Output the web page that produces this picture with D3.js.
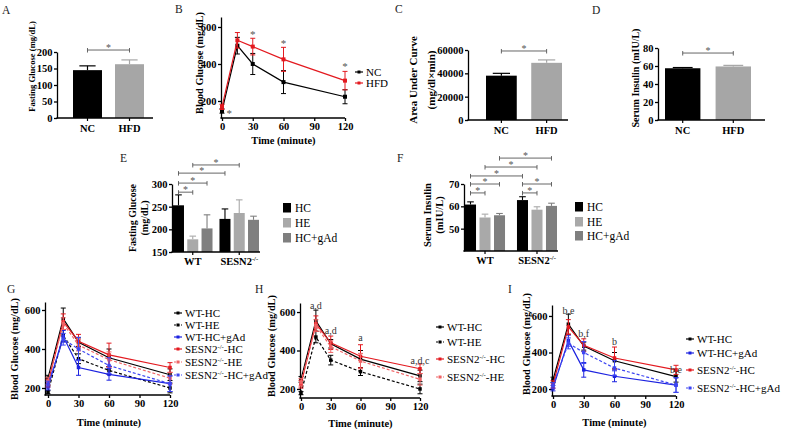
<!DOCTYPE html>
<html><head><meta charset="utf-8">
<script src="https://cdn.jsdelivr.net/npm/d3@7"></script>
<style>
body{margin:0;background:#fff;}
svg{display:block;background:#fff;}
</style></head><body>
<svg id="c" width="789" height="433"></svg>
<script>
// ---------- DATA ----------
// Panels A, C, D
const groupsNH = ["NC", "HFD"];
const fastingA = [145, 163];
const fastingAErr = [13, 13];
const aucC = [38000, 49000];
const aucCErr = [2000, 2500];
const insulinD = [57.5, 59.5];
const insulinDErr = [0.8, 1.2];
const ticksA = [0, 50, 100, 150, 200];
const ticksC = [0, 20000, 40000, 60000];
const ticksD = [0, 20, 40, 60, 80];

// Panel B
const timePoints = [0, 15, 30, 60, 120];
const timeTicks = [0, 30, 60, 90, 120];
const glucoseTicks = [200, 400, 600];
const ipgttNC = [146, 499, 400, 302, 223];
const ipgttNCErr = [12, 45, 57, 62, 38];
const ipgttHFD = [168, 528, 494, 425, 310];
const ipgttHFDErr = [14, 42, 45, 65, 50];
const starsB = [[7, 128], [30, 557], [60, 508], [120, 384]];

// Panels E, F
const genotypes = ["WT", "SESN2^-/-^"];
const treatments = ["HC", "HE", "HC+gAd"];
const fastingE = [[253, 178, 202], [223, 236, 221]];
const fastingEErr = [[23, 7, 30], [22, 29, 8]];
const insulinF = [[60.8, 55.0, 56.0], [62.8, 58.5, 60.2]];
const insulinFErr = [[1.2, 1.5, 0.8], [1.5, 1.3, 1.2]];
const ticksE = [150, 200, 250, 300];
const ticksF = [50, 60, 70];
// [group1, treatment1, group2, treatment2, level]
const bracketsE = [[0, 0, 0, 1, 282], [0, 0, 0, 2, 302], [0, 0, 1, 0, 324], [0, 1, 1, 1, 342]];
const bracketsF = [[0, 0, 0, 1, 66], [0, 0, 0, 2, 70], [0, 0, 1, 0, 73.6], [0, 1, 1, 1, 77.6],
                   [0, 2, 1, 2, 81.6], [1, 0, 1, 2, 70], [1, 0, 1, 1, 66]];

// Panels G, H, I
const seriesNames = ["WT-HC", "WT-HE", "WT-HC+gAd", "SESN2^-/-^-HC", "SESN2^-/-^-HE", "SESN2^-/-^-HC+gAd"];
const glucoseWTHC = [250, 555, 435, 355, 268];
const errWTHC = [15, 55, 22, 45, 30];
const glucoseWTHE = [178, 470, 350, 290, 200];
const errWTHE = [8, 30, 25, 20, 25];
const glucoseWTgAd = [205, 465, 305, 270, 222];
const errWTgAd = [15, 30, 40, 30, 40];
const glucoseSHC = [225, 540, 440, 370, 305];
const errSHC = [20, 40, 35, 60, 25];
const glucoseSHE = [235, 530, 420, 345, 250];
const errSHE = [20, 30, 30, 40, 30];
const glucoseSgAd = [220, 450, 400, 315, 222];
const errSgAd = [15, 30, 60, 40, 40];
const annotH = [[15, 616, "a,d"], [30, 486, "a,d"], [60, 449, "a"], [120, 330, "a,d,c"]];
const annotI = [[15, 611, "b,e"], [30, 485, "b,f"], [60, 441, "b"], [120, 288, "b,e"]];

// ---------- HELPERS ----------
const svg = d3.select("#c");
const SERIF = "'Liberation Serif','Times New Roman',Times,serif";
const RED = "#e3191f", RED2 = "#f06466", BLUE = "#1c22e0", BLUE2 = "#3e46f2";

function richText(t, str, size) {
  const parts = str.split("^");
  parts.forEach((p, i) => {
    if (!p) return;
    const sp = t.append("tspan").text(p);
    if (i % 2 === 1) sp.attr("font-size", size * 0.62).attr("dy", -size * 0.38);
    else if (i > 0) sp.attr("dy", size * 0.38);
  });
}
function label(x, y, str, o = {}) {
  const size = o.size || 11;
  const t = svg.append("text").attr("font-family", SERIF).attr("font-size", size)
    .attr("font-weight", o.weight || "normal").attr("text-anchor", o.anchor || "start")
    .attr("fill", o.fill || "#000");
  if (o.rotate) t.attr("transform", `translate(${x},${y}) rotate(${o.rotate})`);
  else t.attr("x", x).attr("y", y);
  richText(t, str, size);
  return t;
}
function yAxisDraw(scale, x, ticks, size) {
  const ax = d3.axisLeft(scale).tickValues(ticks).tickSize(3).tickSizeOuter(0)
    .tickPadding(1.5).tickFormat(d3.format("d"));
  const g = svg.append("g").attr("transform", `translate(${x},0)`).call(ax);
  g.select(".domain").attr("stroke", "#000").attr("stroke-width", 1.3);
  g.selectAll(".tick line").attr("stroke", "#000").attr("stroke-width", 1.3);
  g.selectAll(".tick text").attr("font-family", SERIF).attr("font-weight", "bold")
    .attr("font-size", size).attr("fill", "#000");
}
function hline(x1, x2, y, c = "#000", w = 1.3) {
  svg.append("line").attr("x1", x1).attr("x2", x2).attr("y1", y).attr("y2", y)
    .attr("stroke", c).attr("stroke-width", w);
}
function bracket(x1, x2, y, star = "*") {
  const g = svg.append("g").attr("stroke", "#555").attr("stroke-width", 0.9);
  g.append("line").attr("x1", x1).attr("x2", x2).attr("y1", y).attr("y2", y);
  g.append("line").attr("x1", x1).attr("x2", x1).attr("y1", y - 2).attr("y2", y + 2.5);
  g.append("line").attr("x1", x2).attr("x2", x2).attr("y1", y - 2).attr("y2", y + 2.5);
  label((x1 + x2) / 2, y + 1, star, { size: 10, anchor: "middle", fill: "#555" });
}
function errBar(cx, y1, y2, half, color = "#000", w = 1) {
  const g = svg.append("g").attr("stroke", color).attr("stroke-width", w);
  g.append("line").attr("x1", cx).attr("x2", cx).attr("y1", y1).attr("y2", y2);
  g.append("line").attr("x1", cx - half).attr("x2", cx + half).attr("y1", y2).attr("y2", y2);
}

// ---------- SIMPLE BAR PANELS (A, C, D) ----------
function barPanel(o) {
  const y = d3.scaleLinear().domain(o.domain).range(o.yRange);
  const x = d3.scaleBand().domain(groupsNH).range(o.barRange).paddingInner(o.pad);
  const base = y(o.domain[0]);
  const colors = ["#000", "#a6a6a6"];
  groupsNH.forEach((c, i) => {
    const cx = x(c) + x.bandwidth() / 2;
    errBar(cx, y(o.vals[i]), y(o.vals[i] + o.errs[i]), x.bandwidth() * 0.28, colors[i], 1.2);
  });
  svg.append("g").selectAll("rect").data(groupsNH).join("rect")
    .attr("x", d => x(d)).attr("width", x.bandwidth())
    .attr("y", (d, i) => y(o.vals[i])).attr("height", (d, i) => base - y(o.vals[i]))
    .attr("fill", (d, i) => colors[i]);
  yAxisDraw(y, o.axisX, o.ticks, o.tickSize);
  hline(o.axisX - 0.6, o.xEnd, base);
  groupsNH.forEach(c => {
    const cx = x(c) + x.bandwidth() / 2;
    svg.append("line").attr("x1", cx).attr("x2", cx).attr("y1", base).attr("y2", base + 3)
      .attr("stroke", "#000").attr("stroke-width", 1.2);
    label(cx, base + 14, c, { size: 10.5, weight: "bold", anchor: "middle" });
  });
  bracket(x(groupsNH[0]) + x.bandwidth() / 2, x(groupsNH[1]) + x.bandwidth() / 2, y(o.bracketLevel));
}

barPanel({ vals: fastingA, errs: fastingAErr, domain: [0, 200], yRange: [118, 52], ticks: ticksA,
  axisX: 57, xEnd: 153, barRange: [73, 144], pad: 0.31, bracketLevel: 206, tickSize: 10.5 });
barPanel({ vals: aucC, errs: aucCErr, domain: [0, 60000], yRange: [120, 50], ticks: ticksC,
  axisX: 468, xEnd: 568, barRange: [486, 562], pad: 0.32, bracketLevel: 59143, tickSize: 10.5 });
barPanel({ vals: insulinD, errs: insulinDErr, domain: [0, 80], yRange: [120, 48], ticks: ticksD,
  axisX: 658, xEnd: 765, barRange: [665, 751], pad: 0.3, bracketLevel: 74.4, tickSize: 10.5 });

label(35, 66.5, "Fasting Glucose (mg/dL)", { size: 8.6, weight: "bold", anchor: "middle", rotate: -90 });
label(417, 80, "Area Under Curve", { size: 11, weight: "bold", anchor: "middle", rotate: -90 });
label(435, 80, "(mg/dl×min)", { size: 11, weight: "bold", anchor: "middle", rotate: -90 });
label(639, 78, "Serum Insulin (mIU/L)", { size: 10, weight: "bold", anchor: "middle", rotate: -90 });

// ---------- GROUPED BAR PANELS (E, F) ----------
function groupedPanel(o) {
  const y = d3.scaleLinear().domain(o.domain).range(o.yRange);
  const gx = d3.scaleBand().domain(d3.range(genotypes.length)).range(o.groupRange).paddingInner(o.gpad);
  const ix = d3.scaleBand().domain(d3.range(treatments.length)).range([0, gx.bandwidth()]).paddingInner(o.ipad);
  const cx = (g, t) => gx(g) + ix(t) + ix.bandwidth() / 2;
  const base = y(o.domain[0]);
  const colors = ["#000", "#a9a9a9", "#7f7f7f"];
  const rows = [];
  o.vals.forEach((arr, g) => arr.forEach((v, t) => rows.push({ g, t, v, e: o.errs[g][t] })));
  rows.forEach(r => errBar(cx(r.g, r.t), y(r.v), y(r.v + r.e), ix.bandwidth() * 0.3, colors[r.t], 1.1));
  svg.append("g").selectAll("rect").data(rows).join("rect")
    .attr("x", d => gx(d.g) + ix(d.t)).attr("width", ix.bandwidth())
    .attr("y", d => y(d.v)).attr("height", d => base - y(d.v)).attr("fill", d => colors[d.t]);
  yAxisDraw(y, o.axisX, o.ticks, 10.5);
  hline(o.axisX - 0.6, o.xEnd, base);
  genotypes.forEach((gname, g) => {
    const c = gx(g) + gx.bandwidth() / 2;
    svg.append("line").attr("x1", c).attr("x2", c).attr("y1", base).attr("y2", base + 3)
      .attr("stroke", "#000").attr("stroke-width", 1.2);
    label(c, base + 12.5, gname, { size: 10.5, weight: "bold", anchor: "middle" });
  });
  o.brackets.forEach(b => bracket(cx(b[0], b[1]), cx(b[2], b[3]), y(b[4])));
  treatments.forEach((t, i) => {
    const ry = o.legendY[i];
    svg.append("rect").attr("x", o.legendX).attr("y", ry - 5).attr("width", 8).attr("height", 9.5)
      .attr("fill", colors[i]);
    label(o.legendX + 12, ry + 4, t, { size: 11.5 });
  });
}
groupedPanel({ vals: fastingE, errs: fastingEErr, domain: [150, 300], yRange: [252, 184], ticks: ticksE,
  axisX: 172, xEnd: 260, groupRange: [173, 259], gpad: 0.15, ipad: 0.23, brackets: bracketsE,
  legendX: 283, legendY: [208, 223, 238] });
groupedPanel({ vals: insulinF, errs: insulinFErr, domain: [40, 70], yRange: [251, 184], ticks: ticksF,
  axisX: 464, xEnd: 558, groupRange: [465, 557], gpad: 0.23, ipad: 0.24, brackets: bracketsF,
  legendX: 575, legendY: [207, 222, 236] });
label(136, 218, "Fasting Glucose", { size: 10, weight: "bold", anchor: "middle", rotate: -90 });
label(148, 218, "(mg/dL)", { size: 10, weight: "bold", anchor: "middle", rotate: -90 });
label(431, 215, "Serum Insulin", { size: 10.5, weight: "bold", anchor: "middle", rotate: -90 });
label(443, 215, "(mIU/L)", { size: 10.5, weight: "bold", anchor: "middle", rotate: -90 });

// ---------- LINE PANELS (B, G, H, I) ----------
function linePanel(o) {
  const x = d3.scaleLinear().domain([0, 120]).range([o.x0, o.x1]);
  const y = d3.scaleLinear().domain(o.domain).range(o.yRange);
  const base = o.yRange[0];
  // x axis
  const ax = d3.axisBottom(x).tickValues(timeTicks).tickSize(3).tickSizeOuter(0).tickPadding(2);
  const g = svg.append("g").attr("transform", `translate(0,${base})`).call(ax);
  g.select(".domain").remove();
  g.selectAll(".tick line").attr("stroke", "#000").attr("stroke-width", 1.3);
  g.selectAll(".tick text").attr("font-family", SERIF).attr("font-weight", "bold")
    .attr("font-size", 10.5).attr("fill", "#000");
  hline(o.axisX - 0.6, o.x1, base);
  yAxisDraw(y, o.axisX, glucoseTicks, 10.5);
  label((o.x0 + o.x1) / 2, o.titleY, "Time (minute)", { size: 10.5, weight: "bold", anchor: "middle" });
  label(o.yTitleX, o.yTitleY, "Blood Glucose (mg/dL)", { size: 10.3, weight: "bold", anchor: "middle", rotate: -90 });
  const line = d3.line().x((d, i) => x(timePoints[i])).y(d => y(d));
  o.series.forEach(s => {
    s.vals.forEach((v, i) => errBar(x(timePoints[i]), y(v), y(v + s.errs[i]), 2.5, s.color, 1));
    s.vals.forEach((v, i) => errBar(x(timePoints[i]), y(v), y(v - s.errs[i]), 2.5, s.color, 1));
    svg.append("path").datum(s.vals).attr("d", line).attr("fill", "none")
      .attr("stroke", s.color).attr("stroke-width", 1.2).attr("stroke-dasharray", s.dash ? "3,2" : null);
    svg.append("g").selectAll("rect").data(s.vals).join("rect")
      .attr("x", (d, i) => x(timePoints[i]) - o.ms / 2).attr("y", d => y(d) - o.ms / 2)
      .attr("width", o.ms).attr("height", o.ms).attr("fill", s.color);
  });
  (o.annots || []).forEach(a => label(x(a[0]), y(a[1]), a[2], { size: 10, anchor: "middle", fill: "#333" }));
  (o.stars || []).forEach(a => label(x(a[0]), y(a[1]) + 3, "*", { size: 11, anchor: "middle", fill: "#555" }));
  // legend
  o.series.forEach((s, i) => {
    const ry = o.legendY[i];
    svg.append("line").attr("x1", o.legendX).attr("x2", o.legendX + 8).attr("y1", ry).attr("y2", ry)
      .attr("stroke", s.color).attr("stroke-width", 1.2).attr("stroke-dasharray", s.dash ? "2,1.5" : null);
    svg.append("rect").attr("x", o.legendX + 2.5).attr("y", ry - 1.5).attr("width", 3).attr("height", 3).attr("fill", s.color);
    label(o.legendX + 11, ry + 3.8, s.name, { size: 11 });
  });
}

linePanel({ x0: 222, x1: 345, axisX: 221, domain: [108, 654], yRange: [118, 17], titleY: 144,
  yTitleX: 202.5, yTitleY: 63, ms: 4, stars: starsB, legendX: 355, legendY: [72, 83],
  series: [
    { name: "NC", vals: ipgttNC, errs: ipgttNCErr, color: "#000" },
    { name: "HFD", vals: ipgttHFD, errs: ipgttHFDErr, color: RED }
  ] });

const S = {
  wthc: { name: seriesNames[0], vals: glucoseWTHC, errs: errWTHC, color: "#000" },
  wthe: { name: seriesNames[1], vals: glucoseWTHE, errs: errWTHE, color: "#000", dash: true },
  wtgad: { name: seriesNames[2], vals: glucoseWTgAd, errs: errWTgAd, color: BLUE },
  shc: { name: seriesNames[3], vals: glucoseSHC, errs: errSHC, color: RED },
  she: { name: seriesNames[4], vals: glucoseSHE, errs: errSHE, color: RED2, dash: true },
  sgad: { name: seriesNames[5], vals: glucoseSgAd, errs: errSgAd, color: BLUE2, dash: true }
};
linePanel({ x0: 48, x1: 170, axisX: 45, domain: [164, 641], yRange: [395, 302], titleY: 426,
  yTitleX: 17.5, yTitleY: 349, ms: 3.5, legendX: 174, legendY: [313, 325, 337, 349, 362, 375],
  series: [S.wthc, S.wthe, S.wtgad, S.shc, S.she, S.sgad] });
linePanel({ x0: 301, x1: 420, axisX: 300, domain: [153, 647], yRange: [398, 303], titleY: 427,
  yTitleX: 274.5, yTitleY: 346, ms: 3.5, annots: annotH, legendX: 436, legendY: [327, 342, 359, 377],
  series: [S.wthc, S.wthe, S.shc, S.she] });
linePanel({ x0: 553, x1: 676, axisX: 552, domain: [162, 660], yRange: [396, 305], titleY: 426,
  yTitleX: 529.5, yTitleY: 344, ms: 3.5, annots: annotI, legendX: 686, legendY: [339, 353, 370, 388],
  series: [S.wthc, S.wtgad, S.shc, S.sgad] });

// ---------- PANEL LETTERS ----------
const panelLetters = ["A", "B", "C", "D", "E", "F", "G", "H", "I"];
const letterPos = [[2, 14], [175, 13], [395, 13], [592, 14], [120, 162], [397, 162], [7, 293], [255, 293], [508, 293]];
panelLetters.forEach((l, i) => label(letterPos[i][0], letterPos[i][1], l, { size: 11.5, fill: "#222" }));
</script>
</body></html>
